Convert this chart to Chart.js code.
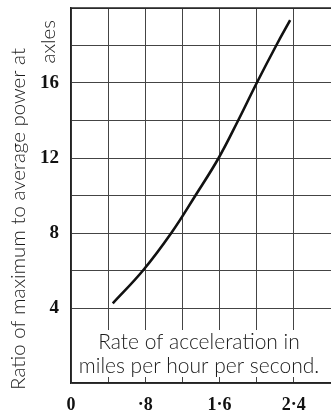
<!DOCTYPE html>
<html>
<head>
<meta charset="utf-8">
<script src="https://cdn.jsdelivr.net/npm/chart.js@4"></script>
<style>
  html, body { margin: 0; padding: 0; background: #fff; }
  #wrap { width: 331px; height: 413px; }
</style>
</head>
<body>
<div id="wrap"><canvas id="accelChart"></canvas></div>
<script>
// values
const accel = [0.45, 0.775, 1.08, 1.34, 1.59, 1.80, 2.0, 2.21, 2.36];
const powerRatio = [4.25, 6.0, 8.0, 10.0, 12.0, 14.0, 16.0, 18.0, 19.35];
const xLabels = { 0: "0", 0.8: "·8", 1.6: "1·6", 2.4: "2·4" };
const yLabels = [4, 8, 12, 16];
const yTitle = ["Ratio of maximum to average power at", "axles"];
const xTitle = ["Rate of acceleration in", "miles per hour per second."];

const points = accel.map((a, i) => ({ x: a, y: powerRatio[i] }));

const textPlugin = {
  id: "textPlugin",
  afterDatasetsDraw(chart) {
    const ctx = chart.ctx;
    const area = chart.chartArea;
    ctx.save();
    // white box behind the x title, inside the plot
    ctx.fillStyle = "#fff";
    ctx.fillRect(area.left + 1, 330, area.right - area.left - 1, 47);
    ctx.fillStyle = "#1a1a1a";
    ctx.font = "300 21px Lato";
    ctx.textAlign = "center";
    ctx.textBaseline = "middle";
    const cx = area.left + 128;
    ctx.fillText(xTitle[0], cx, 342);
    ctx.fillText(xTitle[1], cx, 366);

    // top border
    ctx.strokeStyle = "#222";
    ctx.lineWidth = 1.5;
    ctx.beginPath();
    ctx.moveTo(area.left, area.top);
    ctx.lineTo(area.right, area.top);
    ctx.stroke();

    // y title, rotated
    ctx.font = "300 20.5px Lato";
    ctx.translate(18, 219);
    ctx.rotate(-Math.PI / 2);
    ctx.textAlign = "center";
    ctx.fillText(yTitle[0], 0, 0);
    ctx.textAlign = "right";
    ctx.fillText(yTitle[1], 199, 30);
    ctx.restore();
  }
};

new Chart(document.getElementById("accelChart").getContext("2d"), {
  type: "line",
  data: {
    datasets: [
      {
        data: points,
        borderColor: "#111",
        borderWidth: 2.6,
        pointRadius: 0,
        fill: false,
        tension: 0.4
      }
    ]
  },
  options: {
    responsive: true,
    maintainAspectRatio: false,
    animation: false,
    layout: { padding: { top: 8, right: 0, bottom: 0, left: 0 } },
    plugins: { legend: { display: false }, tooltip: { enabled: false } },
    scales: {
      x: {
        type: "linear",
        min: 0,
        max: 2.8,
        afterFit: (s) => {
          s.height = 30;
          s.paddingLeft = 0;
          s.paddingRight = 0;
        },
        border: { color: "#222", width: 1.5 },
        grid: {
          drawTicks: false,
          color: (c) => (c.tick && c.tick.value >= 2.79 ? "rgba(0,0,0,0)" : "#444"),
          lineWidth: 1
        },
        ticks: {
          stepSize: 0.4,
          padding: 12,
          maxRotation: 0,
          autoSkip: false,
          color: "#111",
          font: { family: "Liberation Serif", weight: "bold", size: 18 },
          callback: (v) => {
            const k = Math.round(v * 10) / 10;
            return xLabels[k] !== undefined ? xLabels[k] : "";
          }
        }
      },
      y: {
        type: "linear",
        min: 0,
        max: 20,
        afterFit: (s) => {
          s.width = 71;
          s.paddingTop = 0;
          s.paddingBottom = 0;
        },
        border: { color: "#222", width: 1.5 },
        grid: { drawTicks: false, color: "#444", lineWidth: 1 },
        ticks: {
          stepSize: 2,
          padding: 12,
          color: "#111",
          font: { family: "Liberation Serif", weight: "bold", size: 19 },
          callback: (v) => (yLabels.includes(v) ? String(v) : "")
        }
      }
    }
  },
  plugins: [textPlugin]
});
</script>
</body>
</html>
